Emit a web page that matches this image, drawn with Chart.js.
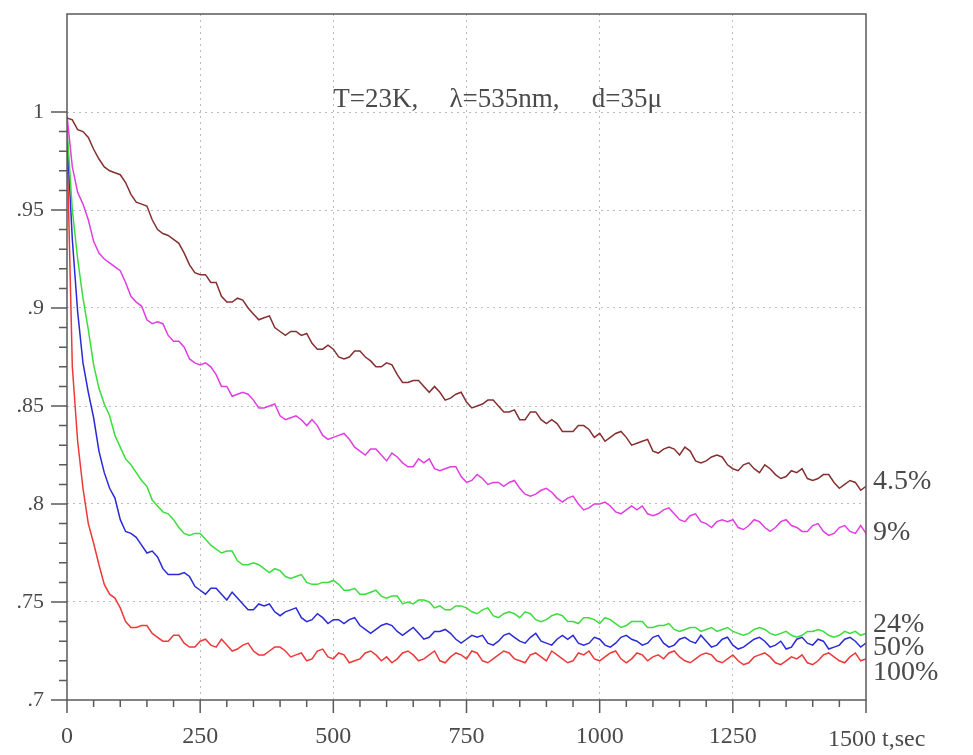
<!DOCTYPE html>
<html>
<head>
<meta charset="utf-8">
<script src="https://cdn.jsdelivr.net/npm/chart.js@4.4.1/dist/chart.umd.min.js"></script>
<style>
  html, body { margin: 0; padding: 0; background: #fff; }
  canvas { display: block; }
</style>
</head>
<body>
<canvas id="myChart" width="973" height="755"></canvas>
<script>
// sampling step of the recorded traces, seconds
const stepSec = 10;
const times = Array.from({ length: 151 }, (_, i) => i * stepSec);

const seriesNames = ['4.5%', '9%', '24%', '50%', '100%'];
const seriesColors = ['#862f2f', '#e03ee0', '#3cdc3c', '#2a2ad6', '#ec3a3a'];

// normalized signal, one value every 10 s
const trace45 = [
  0.997,0.996,0.991,0.990,0.987,0.981,0.976,0.972,0.970,0.969,
  0.968,0.964,0.958,0.954,0.953,0.952,0.945,0.940,0.938,0.937,
  0.935,0.933,0.928,0.922,0.918,0.917,0.917,0.913,0.913,0.906,
  0.903,0.903,0.905,0.904,0.900,0.897,0.894,0.895,0.896,0.890,
  0.888,0.886,0.888,0.888,0.886,0.887,0.882,0.879,0.879,0.881,
  0.879,0.875,0.874,0.875,0.878,0.878,0.875,0.873,0.870,0.870,
  0.872,0.871,0.866,0.862,0.862,0.863,0.863,0.860,0.857,0.860,
  0.857,0.853,0.854,0.856,0.857,0.852,0.849,0.850,0.851,0.853,
  0.853,0.850,0.847,0.847,0.848,0.843,0.843,0.847,0.847,0.843,
  0.841,0.843,0.841,0.837,0.837,0.837,0.840,0.840,0.838,0.834,
  0.836,0.832,0.834,0.836,0.837,0.834,0.830,0.831,0.832,0.833,
  0.827,0.826,0.828,0.829,0.828,0.825,0.829,0.827,0.822,0.821,
  0.822,0.824,0.825,0.824,0.820,0.818,0.817,0.820,0.821,0.818,
  0.816,0.820,0.818,0.815,0.813,0.814,0.817,0.816,0.818,0.813,
  0.812,0.813,0.815,0.815,0.811,0.808,0.810,0.812,0.811,0.807,
  0.809
];
const trace9 = [
  0.998,0.972,0.959,0.953,0.945,0.934,0.928,0.925,0.923,0.921,
  0.919,0.913,0.906,0.903,0.901,0.894,0.892,0.893,0.892,0.886,
  0.883,0.883,0.880,0.874,0.872,0.871,0.872,0.870,0.866,0.860,
  0.860,0.855,0.856,0.857,0.856,0.853,0.849,0.849,0.850,0.851,
  0.845,0.843,0.844,0.845,0.843,0.840,0.843,0.840,0.835,0.833,
  0.834,0.835,0.836,0.833,0.829,0.827,0.825,0.828,0.828,0.825,
  0.822,0.826,0.824,0.821,0.819,0.819,0.823,0.821,0.823,0.818,
  0.817,0.818,0.819,0.819,0.814,0.811,0.812,0.815,0.813,0.810,
  0.811,0.811,0.809,0.811,0.812,0.808,0.805,0.804,0.805,0.807,
  0.808,0.806,0.803,0.801,0.803,0.804,0.800,0.797,0.798,0.800,
  0.800,0.801,0.799,0.796,0.795,0.797,0.799,0.797,0.799,0.795,
  0.794,0.795,0.797,0.798,0.795,0.792,0.791,0.794,0.795,0.791,
  0.790,0.788,0.791,0.792,0.791,0.792,0.788,0.787,0.789,0.792,
  0.791,0.788,0.786,0.788,0.791,0.792,0.789,0.788,0.786,0.786,
  0.789,0.790,0.786,0.784,0.785,0.788,0.789,0.786,0.785,0.789,
  0.785
];
const trace24 = [
  0.992,0.950,0.925,0.905,0.889,0.871,0.859,0.851,0.845,0.835,
  0.829,0.823,0.820,0.816,0.812,0.809,0.802,0.799,0.796,0.795,
  0.792,0.788,0.785,0.784,0.785,0.785,0.782,0.779,0.777,0.775,
  0.776,0.776,0.771,0.769,0.769,0.770,0.769,0.767,0.765,0.767,
  0.766,0.763,0.762,0.763,0.764,0.760,0.759,0.759,0.760,0.760,
  0.761,0.759,0.756,0.756,0.757,0.754,0.754,0.755,0.756,0.753,
  0.752,0.753,0.753,0.749,0.750,0.749,0.751,0.751,0.750,0.747,
  0.748,0.746,0.746,0.748,0.748,0.747,0.745,0.744,0.746,0.747,
  0.743,0.742,0.744,0.745,0.744,0.742,0.745,0.744,0.741,0.740,
  0.741,0.743,0.744,0.743,0.740,0.740,0.739,0.742,0.742,0.741,
  0.739,0.742,0.741,0.739,0.737,0.738,0.740,0.740,0.740,0.737,
  0.737,0.738,0.738,0.739,0.736,0.735,0.736,0.737,0.737,0.735,
  0.736,0.737,0.735,0.736,0.737,0.735,0.734,0.733,0.734,0.736,
  0.737,0.736,0.734,0.733,0.734,0.735,0.733,0.732,0.733,0.735,
  0.735,0.736,0.735,0.733,0.732,0.733,0.735,0.734,0.735,0.733,
  0.734
];
const trace50 = [
  0.988,0.935,0.898,0.872,0.857,0.844,0.827,0.816,0.808,0.803,
  0.792,0.786,0.785,0.783,0.779,0.775,0.776,0.773,0.767,0.764,
  0.764,0.764,0.765,0.763,0.758,0.756,0.754,0.757,0.757,0.754,
  0.751,0.755,0.752,0.749,0.746,0.746,0.749,0.748,0.749,0.745,
  0.743,0.745,0.746,0.747,0.742,0.740,0.741,0.744,0.742,0.739,
  0.741,0.741,0.739,0.741,0.742,0.738,0.736,0.734,0.736,0.738,
  0.739,0.738,0.735,0.733,0.735,0.737,0.734,0.731,0.732,0.735,
  0.735,0.736,0.734,0.731,0.729,0.731,0.733,0.732,0.733,0.729,
  0.728,0.730,0.733,0.734,0.732,0.730,0.729,0.732,0.734,0.730,
  0.729,0.728,0.731,0.733,0.731,0.733,0.729,0.728,0.729,0.732,
  0.731,0.728,0.727,0.729,0.732,0.733,0.731,0.730,0.728,0.729,
  0.732,0.733,0.729,0.727,0.728,0.731,0.732,0.730,0.729,0.733,
  0.730,0.727,0.728,0.731,0.732,0.728,0.726,0.727,0.729,0.731,
  0.732,0.730,0.727,0.728,0.730,0.726,0.727,0.731,0.732,0.729,
  0.728,0.731,0.730,0.726,0.727,0.728,0.731,0.732,0.730,0.727,
  0.729
];
const trace100 = [
  0.985,0.870,0.832,0.808,0.790,0.780,0.769,0.759,0.754,0.752,
  0.747,0.740,0.737,0.737,0.738,0.738,0.734,0.732,0.730,0.730,
  0.733,0.733,0.729,0.727,0.727,0.730,0.731,0.728,0.727,0.731,
  0.728,0.725,0.726,0.728,0.729,0.725,0.723,0.723,0.725,0.727,
  0.727,0.725,0.722,0.723,0.724,0.720,0.721,0.725,0.726,0.722,
  0.721,0.724,0.723,0.719,0.720,0.721,0.724,0.725,0.723,0.720,
  0.722,0.719,0.721,0.724,0.725,0.723,0.720,0.721,0.723,0.725,
  0.720,0.719,0.722,0.724,0.723,0.721,0.725,0.724,0.720,0.719,
  0.721,0.723,0.725,0.724,0.721,0.720,0.719,0.723,0.724,0.722,
  0.720,0.725,0.723,0.721,0.719,0.720,0.724,0.723,0.725,0.721,
  0.720,0.722,0.724,0.725,0.721,0.719,0.721,0.724,0.723,0.720,
  0.722,0.723,0.721,0.724,0.725,0.722,0.720,0.719,0.721,0.723,
  0.724,0.723,0.720,0.719,0.721,0.723,0.720,0.718,0.719,0.722,
  0.723,0.724,0.722,0.719,0.718,0.720,0.722,0.721,0.723,0.719,
  0.718,0.720,0.723,0.724,0.722,0.720,0.719,0.722,0.724,0.720,
  0.721
];

// where the curve names sit on the right (signal units)
const nameLevels = [0.8115, 0.7855, 0.7385, 0.7265, 0.7140];

const yTickValues = [0.7, 0.75, 0.8, 0.85, 0.9, 0.95, 1];

const serif = "'Liberation Serif', 'DejaVu Serif', serif";
const textGrey = '#4a4a4a';
const frameGrey = '#5a5a5a';
const gridGrey = '#bcbcbc';

function near(a, b) { return Math.abs(a - b) < 1e-6; }

function yLabel(v) {
  if (near(v, 1)) return '1';
  if (!yTickValues.some(t => near(t, v))) return '';
  return String(+v.toFixed(2)).replace(/^0/, '');
}

const frameAndTicks = {
  id: 'frameAndTicks',
  afterDraw(chart) {
    const ctx = chart.ctx;
    const a = chart.chartArea;
    const xs = chart.scales.x;
    const ys = chart.scales.y;
    ctx.save();
    ctx.strokeStyle = frameGrey;
    ctx.lineWidth = 1.5;
    ctx.strokeRect(a.left, a.top, a.right - a.left, a.bottom - a.top);

    // outside ticks: majors long, minors short
    ctx.beginPath();
    for (let t = 0; t <= 1500; t += 50) {
      const px = xs.getPixelForValue(t);
      const len = t % 250 === 0 ? 13 : 7;
      ctx.moveTo(px, a.bottom);
      ctx.lineTo(px, a.bottom + len);
    }
    for (let k = 70; k <= 100; k++) {
      const py = ys.getPixelForValue(k / 100);
      const len = k % 5 === 0 ? 16 : 8;
      ctx.moveTo(a.left, py);
      ctx.lineTo(a.left - len, py);
    }
    ctx.stroke();

    // last x label with the unit
    ctx.fillStyle = textGrey;
    ctx.font = '24px ' + serif;
    ctx.textBaseline = 'alphabetic';
    const baseX = a.bottom + 46;
    ctx.textAlign = 'center';
    ctx.fillText('1500', xs.getPixelForValue(1500) - 14, baseX);
    ctx.textAlign = 'left';
    ctx.fillText('t,sec', xs.getPixelForValue(1500) + 16, baseX);

    // curve names
    ctx.font = '28px ' + serif;
    ctx.textBaseline = 'middle';
    seriesNames.forEach((name, i) => {
      ctx.fillText(name, a.right + 7, ys.getPixelForValue(nameLevels[i]));
    });

    // conditions
    ctx.font = '27px ' + serif;
    ctx.textBaseline = 'alphabetic';
    const ty = ys.getPixelForValue(1) - 5;
    ctx.fillText('T=23K,', xs.getPixelForValue(500), ty);
    ctx.fillText('\u03bb=535nm,', xs.getPixelForValue(718), ty);
    ctx.fillText('d=35\u03bc', xs.getPixelForValue(985), ty);
    ctx.restore();
  }
};

const traces = [trace45, trace9, trace24, trace50, trace100];

const ctx = document.getElementById('myChart').getContext('2d');
const myChart = new Chart(ctx, {
  type: 'line',
  data: {
    datasets: traces.map((tr, i) => ({
      label: seriesNames[i],
      data: tr.map((v, j) => ({ x: times[j], y: v })),
      borderColor: seriesColors[i],
      borderWidth: 1.5,
      pointRadius: 0,
      tension: 0,
      fill: false
    }))
  },
  options: {
    responsive: false,
    animation: false,
    devicePixelRatio: 1,
    layout: { padding: { left: 0, top: 14, right: 107, bottom: 0 } },
    plugins: { legend: { display: false }, tooltip: { enabled: false } },
    scales: {
      x: {
        type: 'linear',
        min: 0,
        max: 1500,
        afterFit: s => {
          s.height = 55;
          s.paddingLeft = 0;
          s.paddingRight = 0;
        },
        ticks: {
          stepSize: 250,
          autoSkip: false,
          maxRotation: 0,
          padding: 22,
          color: textGrey,
          font: { family: serif, size: 24 },
          callback: v => (v === 1500 ? '' : String(v))
        },
        grid: {
          drawTicks: false,
          lineWidth: 1,
          color: c => (c.tick && c.tick.value > 0 && c.tick.value < 1500 ? gridGrey : 'rgba(0,0,0,0)')
        },
        border: { display: false, dash: [2, 4] }
      },
      y: {
        min: 0.7,
        max: 1.05,
        afterFit: s => {
          s.width = 67;
          s.paddingTop = 0;
          s.paddingBottom = 0;
        },
        ticks: {
          stepSize: 0.05,
          autoSkip: false,
          padding: 23,
          color: textGrey,
          font: { family: serif, size: 22 },
          callback: v => yLabel(v)
        },
        grid: {
          drawTicks: false,
          lineWidth: 1,
          color: c => (c.tick && c.tick.value > 0.701 && c.tick.value < 1.001 ? gridGrey : 'rgba(0,0,0,0)')
        },
        border: { display: false, dash: [2, 4] }
      }
    }
  },
  plugins: [frameAndTicks]
});
</script>
</body>
</html>
